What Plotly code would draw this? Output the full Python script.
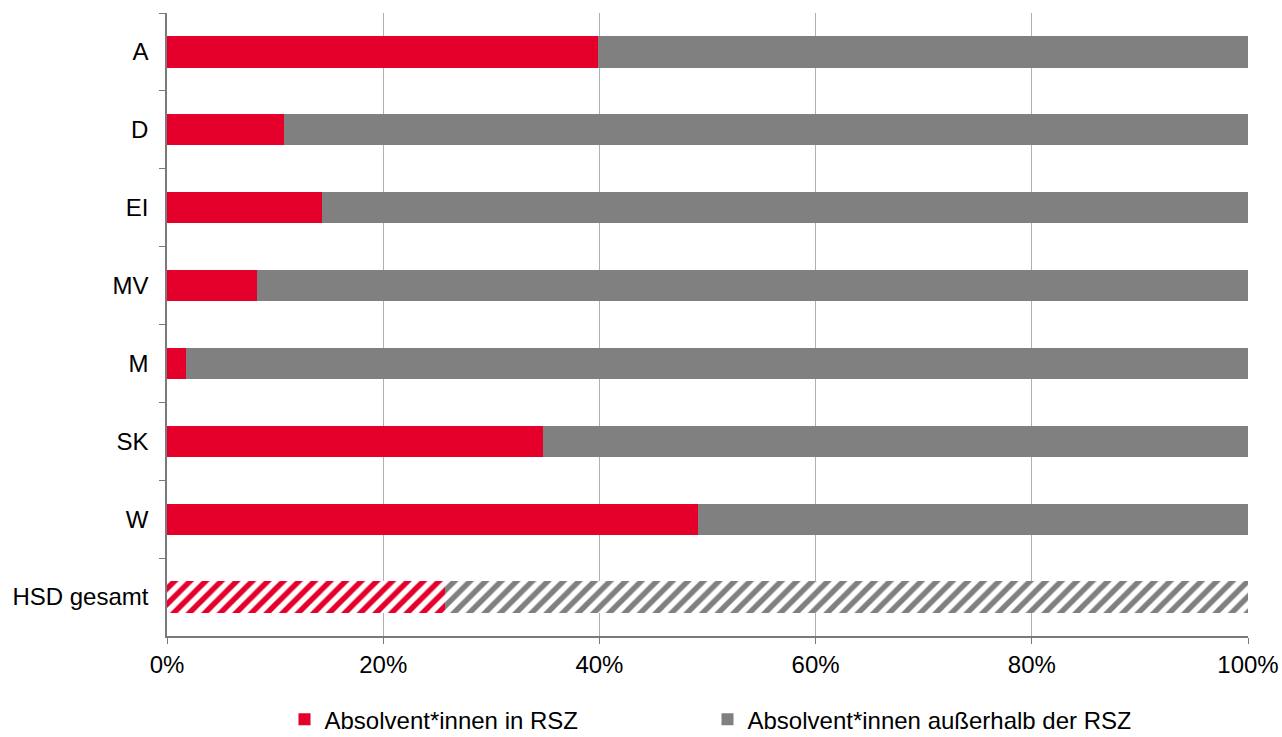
import plotly.graph_objects as go

categories = ["A", "D", "EI", "MV", "M", "SK", "W", "HSD gesamt"]
in_rsz = [39.9, 10.8, 14.3, 8.3, 1.8, 34.8, 49.1, 25.7]
outside_rsz = [100 - v for v in in_rsz]
x_ticks = [0, 20, 40, 60, 80, 100]
x_tick_labels = ["0%", "20%", "40%", "60%", "80%", "100%"]

RED = "#e4002b"
GREY = "#808080"
FONT = "Liberation Sans, Arial, sans-serif"

# the overall bar is drawn hatched
hatch = ["/" if c == "HSD gesamt" else "" for c in categories]


def _marker(color):
    return {
        "color": color,
        "line": {"width": 0},
        "pattern": {
            "shape": hatch,
            "fillmode": "replace",
            "fgcolor": color,
            "fgopacity": 1,
            "bgcolor": "white",
            "size": 11,
            "solidity": 0.5,
        },
    }


fig = go.Figure()
fig.add_trace(
    go.Bar(
        name="Absolvent*innen in RSZ",
        y=categories,
        x=in_rsz,
        orientation="h",
        marker=_marker(RED),
    )
)
fig.add_trace(
    go.Bar(
        name="Absolvent*innen außerhalb der RSZ",
        y=categories,
        x=outside_rsz,
        orientation="h",
        marker=_marker(GREY),
    )
)

fig.update_layout(
    width=1282,
    height=737,
    barmode="stack",
    bargap=0.6,
    plot_bgcolor="white",
    paper_bgcolor="white",
    font={"family": FONT, "size": 24, "color": "black"},
    margin={"l": 167, "r": 34, "t": 13, "b": 101, "autoexpand": False},
    showlegend=True,
    legend={
        "orientation": "h",
        "traceorder": "normal",
        "x": 0.5,
        "xanchor": "center",
        "y": -0.098,
        "yanchor": "top",
        "font": {"size": 24},
        "entrywidth": 378,
        "itemwidth": 30,
    },
    xaxis={
        "range": [0, 100],
        "tickvals": x_ticks,
        "ticktext": x_tick_labels,
        "showgrid": True,
        "gridcolor": "#b0b0b0",
        "gridwidth": 1,
        "showline": True,
        "linecolor": "#7a7a7a",
        "linewidth": 1.5,
        "ticks": "outside",
        "ticklen": 6,
        "tickcolor": "#7a7a7a",
        "zeroline": False,
    },
    yaxis={
        "autorange": "reversed",
        "showline": True,
        "linecolor": "#7a7a7a",
        "linewidth": 1.5,
        "ticks": "outside",
        "ticklen": 6,
        "tickcolor": "#7a7a7a",
        "tickson": "boundaries",
        "ticklabelstandoff": 12,
        "showgrid": False,
    },
)

fig.write_html(
    "out.html",
    config={"displayModeBar": False},
    post_script="document.body.style.margin = '0';",
)
